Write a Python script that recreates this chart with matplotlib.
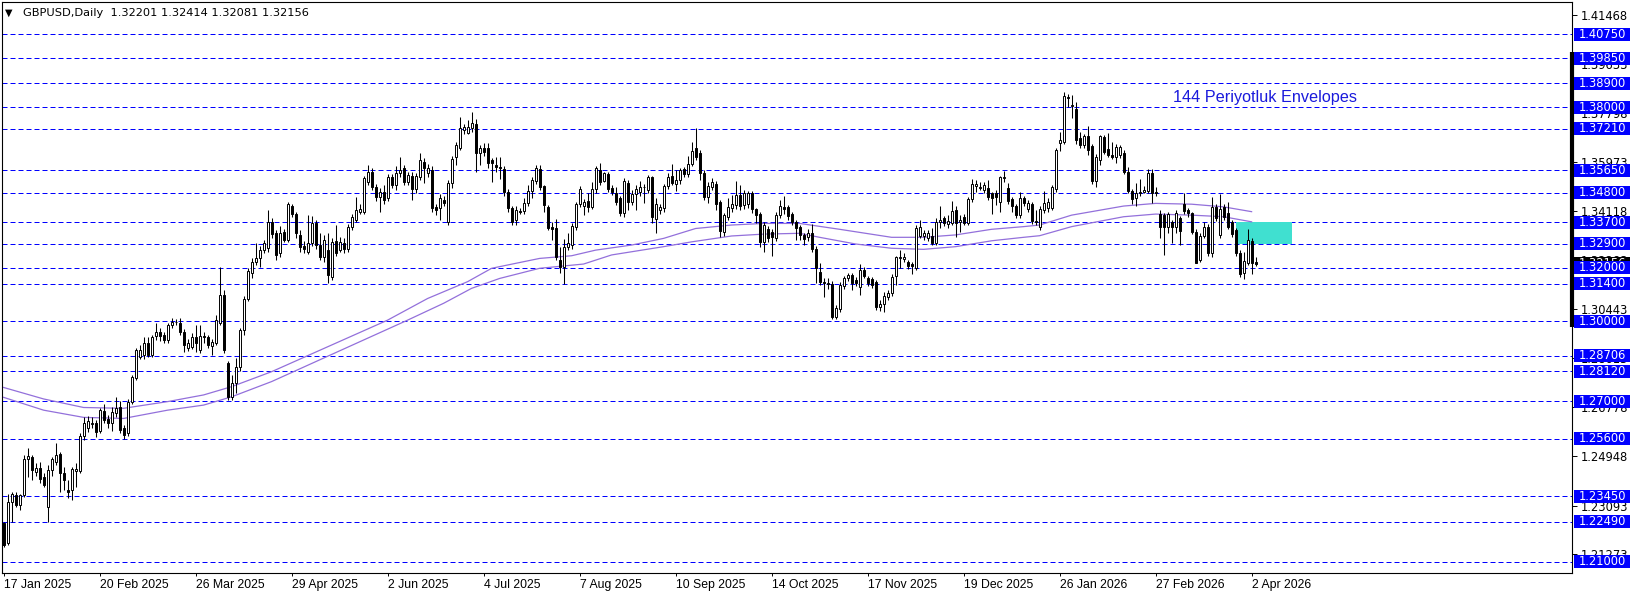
import matplotlib
matplotlib.use("Agg")
from matplotlib import pyplot as plt
from matplotlib.patches import Rectangle
from matplotlib.transforms import blended_transform_factory
import numpy as np

# daily GBPUSD candles, 17 Jan 2025 .. 3 Apr 2026
opens = [
    1.2243, 1.2171, 1.2324, 1.2349, 1.2312, 1.2349, 1.2483, 1.2493, 1.2436, 1.2449,
    1.2418, 1.2305, 1.2443, 1.2474, 1.2503, 1.2433, 1.2370, 1.2368, 1.2440, 1.2440,
    1.2570, 1.2600, 1.2615, 1.2620, 1.2590, 1.2665, 1.2635, 1.2620, 1.2655, 1.2680,
    1.2600, 1.2580, 1.2699, 1.2786, 1.2867, 1.2874, 1.2917, 1.2874, 1.2945, 1.2958,
    1.2948, 1.2930, 1.2986, 1.2998, 1.2995, 1.2961, 1.2898, 1.2905, 1.2942, 1.2893,
    1.2945, 1.2940, 1.2906, 1.2917, 1.2992, 1.3098, 1.2842, 1.2717, 1.2767, 1.2827,
    1.2967, 1.3083, 1.3179, 1.3223, 1.3235, 1.3266, 1.3273, 1.3372, 1.3329, 1.3254,
    1.3335, 1.3304, 1.3431, 1.3401, 1.3323, 1.3281, 1.3260, 1.3291, 1.3368, 1.3285,
    1.3241, 1.3268, 1.3164, 1.3301, 1.3266, 1.3294, 1.3272, 1.3351, 1.3378, 1.3410,
    1.3410, 1.3522, 1.3560, 1.3503, 1.3466, 1.3485, 1.3460, 1.3538, 1.3510, 1.3553,
    1.3572, 1.3522, 1.3543, 1.3493, 1.3538, 1.3597, 1.3556, 1.3566, 1.3428, 1.3422,
    1.3453, 1.3372, 1.3516, 1.3616, 1.3647, 1.3716, 1.3703, 1.3722, 1.3740, 1.3628,
    1.3650, 1.3650, 1.3603, 1.3584, 1.3578, 1.3568, 1.3485, 1.3422, 1.3378, 1.3413,
    1.3412, 1.3443, 1.3488, 1.3526, 1.3568, 1.3506, 1.3426, 1.3354, 1.3347, 1.3229,
    1.3204, 1.3279, 1.3285, 1.3353, 1.3439, 1.3431, 1.3451, 1.3429, 1.3493, 1.3566,
    1.3525, 1.3550, 1.3500, 1.3478, 1.3463, 1.3404, 1.3516, 1.3447, 1.3476, 1.3485,
    1.3501, 1.3491, 1.3538, 1.3381, 1.3416, 1.3422, 1.3506, 1.3543, 1.3513, 1.3528,
    1.3568, 1.3550, 1.3588, 1.3647, 1.3628, 1.3553, 1.3466, 1.3501, 1.3513, 1.3447,
    1.3335, 1.3391, 1.3423, 1.3435, 1.3472, 1.3435, 1.3438, 1.3478, 1.3419, 1.3403,
    1.3297, 1.3344, 1.3335, 1.3313, 1.3397, 1.3429, 1.3426, 1.3403, 1.3372, 1.3351,
    1.3323, 1.3314, 1.3329, 1.3269, 1.3185, 1.3148, 1.3138, 1.3139, 1.3015, 1.3045,
    1.3130, 1.3160, 1.3172, 1.3154, 1.3127, 1.3191, 1.3160, 1.3157, 1.3148, 1.3054,
    1.3066, 1.3089, 1.3104, 1.3169, 1.3236, 1.3232, 1.3223, 1.3214, 1.3198, 1.3319,
    1.3319, 1.3310, 1.3319, 1.3294, 1.3373, 1.3385, 1.3364, 1.3369, 1.3418, 1.3372,
    1.3391, 1.3369, 1.3456, 1.3507, 1.3500, 1.3491, 1.3497, 1.3479, 1.3479, 1.3447,
    1.3535, 1.3497, 1.3456, 1.3431, 1.3397, 1.3460, 1.3419, 1.3438, 1.3376, 1.3354,
    1.3416, 1.3422, 1.3422, 1.3494, 1.3666, 1.3672, 1.3840, 1.3805, 1.3793, 1.3684,
    1.3659, 1.3693, 1.3656, 1.3526, 1.3603, 1.3688, 1.3643, 1.3622, 1.3613, 1.3622,
    1.3628, 1.3559, 1.3488, 1.3460, 1.3478, 1.3485, 1.3488, 1.3553, 1.3485, 1.3403,
    1.3397, 1.3351, 1.3372, 1.3354, 1.3385, 1.3438, 1.3416, 1.3404, 1.3335, 1.3229,
    1.3319, 1.3354, 1.3254, 1.3428, 1.3322, 1.3429, 1.3404, 1.3372, 1.3341, 1.3256,
    1.3179, 1.3219, 1.3301, 1.32201,
]
highs = [
    1.2250, 1.2355, 1.2362, 1.2362, 1.2355, 1.2499, 1.2524, 1.2499, 1.2470, 1.2474,
    1.2430, 1.2460, 1.2490, 1.2543, 1.2510, 1.2455, 1.2405, 1.2455, 1.2470, 1.2580,
    1.2640, 1.2645, 1.2640, 1.2630, 1.2675, 1.2690, 1.2650, 1.2680, 1.2717, 1.2700,
    1.2610, 1.2710, 1.2800, 1.2898, 1.2910, 1.2942, 1.2940, 1.2950, 1.2992, 1.2975,
    1.2960, 1.2995, 1.3011, 1.3010, 1.3011, 1.2970, 1.2935, 1.2955, 1.2985, 1.2986,
    1.2960, 1.2950, 1.2935, 1.3023, 1.3204, 1.3117, 1.2850, 1.2800, 1.2861, 1.2975,
    1.3095, 1.3200, 1.3235, 1.3291, 1.3280, 1.3305, 1.3416, 1.3388, 1.3340, 1.3355,
    1.3345, 1.3445, 1.3440, 1.3410, 1.3340, 1.3300, 1.3397, 1.3395, 1.3378, 1.3330,
    1.3323, 1.3330, 1.3310, 1.3360, 1.3317, 1.3310, 1.3365, 1.3400, 1.3466, 1.3440,
    1.3545, 1.3585, 1.3575, 1.3515, 1.3500, 1.3510, 1.3550, 1.3550, 1.3580, 1.3616,
    1.3585, 1.3560, 1.3560, 1.3555, 1.3628, 1.3610, 1.3590, 1.3580, 1.3440, 1.3475,
    1.3470, 1.3530, 1.3620, 1.3672, 1.3766, 1.3740, 1.3753, 1.3784, 1.3755, 1.3660,
    1.3666, 1.3666, 1.3610, 1.3616, 1.3616, 1.3580, 1.3495, 1.3430, 1.3430, 1.3425,
    1.3460, 1.3510, 1.3540, 1.3585, 1.3585, 1.3510, 1.3435, 1.3370, 1.3381, 1.3279,
    1.3306, 1.3329, 1.3366, 1.3447, 1.3505, 1.3456, 1.3481, 1.3522, 1.3580, 1.3591,
    1.3560, 1.3560, 1.3510, 1.3503, 1.3470, 1.3535, 1.3530, 1.3490, 1.3510, 1.3526,
    1.3515, 1.3547, 1.3545, 1.3463, 1.3440, 1.3515, 1.3556, 1.3588, 1.3566, 1.3575,
    1.3578, 1.3618, 1.3669, 1.3722, 1.3640, 1.3565, 1.3520, 1.3535, 1.3525, 1.3455,
    1.3405, 1.3460, 1.3472, 1.3526, 1.3510, 1.3490, 1.3488, 1.3488, 1.3425, 1.3410,
    1.3370, 1.3355, 1.3345, 1.3410, 1.3453, 1.3468, 1.3435, 1.3410, 1.3380, 1.3359,
    1.3330, 1.3345, 1.3364, 1.3280, 1.3217, 1.3160, 1.3160, 1.3150, 1.3060, 1.3145,
    1.3169, 1.3181, 1.3180, 1.3165, 1.3214, 1.3204, 1.3170, 1.3165, 1.3155, 1.3080,
    1.3110, 1.3115, 1.3175, 1.3245, 1.3266, 1.3255, 1.3230, 1.3220, 1.3360, 1.3379,
    1.3340, 1.3340, 1.3347, 1.3385, 1.3431, 1.3395, 1.3397, 1.3451, 1.3430, 1.3397,
    1.3400, 1.3465, 1.3531, 1.3530, 1.3522, 1.3520, 1.3528, 1.3485, 1.3490, 1.3545,
    1.3563, 1.3516, 1.3465, 1.3440, 1.3485, 1.3470, 1.3455, 1.3445, 1.3416, 1.3430,
    1.3488, 1.3463, 1.3510, 1.3650, 1.3709, 1.3859, 1.3852, 1.3847, 1.3822, 1.3709,
    1.3700, 1.3731, 1.3665, 1.3625, 1.3697, 1.3697, 1.3703, 1.3672, 1.3665, 1.3660,
    1.3640, 1.3578, 1.3495, 1.3516, 1.3531, 1.3505, 1.3568, 1.3568, 1.3503, 1.3415,
    1.3405, 1.3410, 1.3380, 1.3415, 1.3395, 1.3478, 1.3425, 1.3410, 1.3345, 1.3330,
    1.3372, 1.3365, 1.3466, 1.3440, 1.3476, 1.3440, 1.3447, 1.3380, 1.3350, 1.3265,
    1.3260, 1.3344, 1.3310, 1.32414,
]
lows = [
    1.2156, 1.2162, 1.2249, 1.2305, 1.2293, 1.2343, 1.2418, 1.2405, 1.2420, 1.2393,
    1.2380, 1.2249, 1.2420, 1.2460, 1.2362, 1.2368, 1.2340, 1.2330, 1.2380, 1.2430,
    1.2555, 1.2585, 1.2600, 1.2565, 1.2580, 1.2620, 1.2600, 1.2590, 1.2640, 1.2580,
    1.2558, 1.2570, 1.2690, 1.2780, 1.2860, 1.2860, 1.2865, 1.2865, 1.2930, 1.2925,
    1.2917, 1.2920, 1.2975, 1.2985, 1.2950, 1.2886, 1.2890, 1.2895, 1.2886, 1.2880,
    1.2920, 1.2900, 1.2874, 1.2910, 1.2985, 1.2880, 1.2705, 1.2705, 1.2730, 1.2815,
    1.2950, 1.3075, 1.3160, 1.3210, 1.3204, 1.3255, 1.3260, 1.3310, 1.3229, 1.3240,
    1.3295, 1.3295, 1.3390, 1.3310, 1.3260, 1.3256, 1.3250, 1.3280, 1.3270, 1.3230,
    1.3220, 1.3142, 1.3155, 1.3245, 1.3260, 1.3255, 1.3260, 1.3340, 1.3370, 1.3400,
    1.3400, 1.3510, 1.3490, 1.3450, 1.3410, 1.3440, 1.3450, 1.3500, 1.3491, 1.3540,
    1.3510, 1.3510, 1.3454, 1.3480, 1.3530, 1.3516, 1.3540, 1.3410, 1.3397, 1.3379,
    1.3430, 1.3360, 1.3500, 1.3585, 1.3640, 1.3700, 1.3700, 1.3710, 1.3560, 1.3584,
    1.3620, 1.3572, 1.3522, 1.3560, 1.3531, 1.3470, 1.3410, 1.3360, 1.3360, 1.3400,
    1.3400, 1.3430, 1.3460, 1.3515, 1.3490, 1.3410, 1.3340, 1.3304, 1.3229, 1.3181,
    1.3139, 1.3265, 1.3270, 1.3341, 1.3426, 1.3398, 1.3410, 1.3420, 1.3480, 1.3510,
    1.3520, 1.3485, 1.3472, 1.3435, 1.3395, 1.3390, 1.3416, 1.3435, 1.3416, 1.3470,
    1.3441, 1.3480, 1.3366, 1.3329, 1.3400, 1.3410, 1.3495, 1.3510, 1.3488, 1.3515,
    1.3540, 1.3540, 1.3580, 1.3605, 1.3528, 1.3455, 1.3444, 1.3490, 1.3416, 1.3316,
    1.3319, 1.3380, 1.3410, 1.3420, 1.3415, 1.3420, 1.3425, 1.3405, 1.3366, 1.3279,
    1.3260, 1.3295, 1.3245, 1.3300, 1.3385, 1.3400, 1.3380, 1.3360, 1.3304, 1.3304,
    1.3285, 1.3300, 1.3260, 1.3142, 1.3135, 1.3092, 1.3120, 1.3007, 1.3008, 1.3035,
    1.3120, 1.3150, 1.3117, 1.3130, 1.3098, 1.3160, 1.3130, 1.3125, 1.3042, 1.3039,
    1.3035, 1.3080, 1.3095, 1.3135, 1.3198, 1.3220, 1.3195, 1.3177, 1.3190, 1.3310,
    1.3305, 1.3300, 1.3285, 1.3285, 1.3347, 1.3355, 1.3350, 1.3360, 1.3316, 1.3335,
    1.3360, 1.3360, 1.3445, 1.3485, 1.3490, 1.3479, 1.3455, 1.3401, 1.3435, 1.3410,
    1.3520, 1.3440, 1.3410, 1.3385, 1.3385, 1.3430, 1.3410, 1.3365, 1.3360, 1.3341,
    1.3405, 1.3410, 1.3415, 1.3485, 1.3638, 1.3665, 1.3800, 1.3762, 1.3665, 1.3650,
    1.3650, 1.3622, 1.3515, 1.3504, 1.3585, 1.3625, 1.3615, 1.3606, 1.3591, 1.3610,
    1.3550, 1.3480, 1.3440, 1.3431, 1.3470, 1.3480, 1.3480, 1.3441, 1.3470, 1.3310,
    1.3248, 1.3330, 1.3291, 1.3329, 1.3285, 1.3400, 1.3391, 1.3325, 1.3216, 1.3220,
    1.3310, 1.3245, 1.3240, 1.3375, 1.3310, 1.3380, 1.3345, 1.3315, 1.3245, 1.3165,
    1.3157, 1.3210, 1.3176, 1.32081,
]
closes = [
    1.2162, 1.2324, 1.2355, 1.2312, 1.2349, 1.2483, 1.2495, 1.2443, 1.2449, 1.2411,
    1.2387, 1.2443, 1.2483, 1.2499, 1.2430, 1.2405, 1.2362, 1.2445, 1.2446, 1.2570,
    1.2620, 1.2625, 1.2620, 1.2585, 1.2667, 1.2630, 1.2620, 1.2660, 1.2675, 1.2593,
    1.2574, 1.2699, 1.2792, 1.2892, 1.2892, 1.2917, 1.2874, 1.2942, 1.2958, 1.2945,
    1.2930, 1.2986, 1.2998, 1.2996, 1.2961, 1.2911, 1.2920, 1.2942, 1.2920, 1.2945,
    1.2940, 1.2911, 1.2922, 1.3005, 1.3098, 1.2892, 1.2717, 1.2767, 1.2827, 1.2967,
    1.3083, 1.3189, 1.3223, 1.3235, 1.3266, 1.3291, 1.3373, 1.3326, 1.3248, 1.3331,
    1.3304, 1.3439, 1.3401, 1.3329, 1.3279, 1.3269, 1.3291, 1.3366, 1.3285, 1.3241,
    1.3304, 1.3173, 1.3298, 1.3256, 1.3298, 1.3272, 1.3354, 1.3391, 1.3416, 1.3420,
    1.3535, 1.3560, 1.3503, 1.3466, 1.3485, 1.3453, 1.3538, 1.3510, 1.3553, 1.3566,
    1.3522, 1.3547, 1.3493, 1.3543, 1.3603, 1.3572, 1.3572, 1.3422, 1.3416, 1.3463,
    1.3441, 1.3519, 1.3609, 1.3660, 1.3722, 1.3726, 1.3728, 1.3743, 1.3628, 1.3647,
    1.3634, 1.3593, 1.3593, 1.3578, 1.3575, 1.3485, 1.3422, 1.3372, 1.3416, 1.3410,
    1.3443, 1.3488, 1.3528, 1.3572, 1.3501, 1.3435, 1.3347, 1.3344, 1.3241, 1.3204,
    1.3279, 1.3294, 1.3356, 1.3439, 1.3495, 1.3448, 1.3426, 1.3493, 1.3572, 1.3522,
    1.3553, 1.3495, 1.3485, 1.3447, 1.3406, 1.3526, 1.3447, 1.3476, 1.3493, 1.3503,
    1.3503, 1.3538, 1.3391, 1.3438, 1.3428, 1.3506, 1.3541, 1.3518, 1.3528, 1.3566,
    1.3550, 1.3590, 1.3638, 1.3616, 1.3553, 1.3466, 1.3506, 1.3522, 1.3438, 1.3339,
    1.3397, 1.3429, 1.3438, 1.3472, 1.3431, 1.3478, 1.3478, 1.3419, 1.3397, 1.3297,
    1.3360, 1.3310, 1.3316, 1.3397, 1.3431, 1.3419, 1.3394, 1.3372, 1.3348, 1.3323,
    1.3306, 1.3331, 1.3269, 1.3198, 1.3148, 1.3142, 1.3142, 1.3017, 1.3048, 1.3135,
    1.3160, 1.3172, 1.3142, 1.3142, 1.3191, 1.3169, 1.3144, 1.3135, 1.3054, 1.3066,
    1.3094, 1.3104, 1.3164, 1.3239, 1.3240, 1.3242, 1.3206, 1.3207, 1.3347, 1.3351,
    1.3329, 1.3331, 1.3294, 1.3373, 1.3379, 1.3366, 1.3376, 1.3414, 1.3369, 1.3379,
    1.3369, 1.3456, 1.3514, 1.3512, 1.3504, 1.3510, 1.3466, 1.3463, 1.3466, 1.3538,
    1.3541, 1.3451, 1.3431, 1.3397, 1.3460, 1.3441, 1.3444, 1.3376, 1.3373, 1.3419,
    1.3444, 1.3447, 1.3501, 1.3641, 1.3678, 1.3843, 1.3835, 1.3810, 1.3678, 1.3659,
    1.3693, 1.3641, 1.3526, 1.3613, 1.3693, 1.3634, 1.3622, 1.3616, 1.3653, 1.3653,
    1.3559, 1.3488, 1.3456, 1.3478, 1.3485, 1.3491, 1.3553, 1.3478, 1.3478, 1.3354,
    1.3351, 1.3401, 1.3351, 1.3406, 1.3339, 1.3413, 1.3406, 1.3335, 1.3219, 1.3319,
    1.3351, 1.3254, 1.3426, 1.3385, 1.3419, 1.3391, 1.3354, 1.3326, 1.3256, 1.3176,
    1.3226, 1.3304, 1.3219, 1.32156,
]

# 144 period envelopes (upper / lower band), sampled along the bars
env_upper_bars = [0, 10, 20, 30, 41, 50, 57, 67, 96, 106, 116, 122, 134, 142, 148, 157,
                  165, 173, 182, 190, 199, 209, 222, 230, 238, 247, 255, 259, 267, 280,
                  288, 297, 305, 312]
env_upper = [1.2752, 1.2709, 1.2677, 1.2674, 1.2699, 1.2724, 1.2755, 1.2811, 1.3004, 1.3085,
             1.3148, 1.3198, 1.3235, 1.3245, 1.3266, 1.3285, 1.3310, 1.3347, 1.3360, 1.3366,
             1.3366, 1.3344, 1.3314, 1.3314, 1.3323, 1.3344, 1.3354, 1.3360, 1.3397, 1.3431,
             1.3441, 1.3438, 1.3428, 1.3410]
env_lower_bars = [0, 10, 20, 30, 41, 50, 57, 67, 101, 110, 117, 124, 134, 145, 152, 165,
                  172, 182, 190, 199, 204, 213, 222, 230, 238, 247, 255, 259, 267, 280,
                  288, 297, 305, 312]
env_lower = [1.2715, 1.2667, 1.2640, 1.2636, 1.2667, 1.2686, 1.2717, 1.2774, 1.3004, 1.3067,
             1.3123, 1.3160, 1.3198, 1.3214, 1.3248, 1.3279, 1.3297, 1.3319, 1.3326, 1.3329,
             1.3314, 1.3289, 1.3273, 1.3269, 1.3279, 1.3301, 1.3314, 1.3320, 1.3354, 1.3391,
             1.3401, 1.3397, 1.3391, 1.3372]

# horizontal levels (blue dashed lines with price boxes)
levels = [1.40750, 1.39850, 1.38900, 1.38000, 1.37210, 1.35650, 1.34800, 1.33700, 1.32900,
          1.32000, 1.31400, 1.30000, 1.28706, 1.28120, 1.27000, 1.25600, 1.23450, 1.22490,
          1.21000]
axis_prices = [1.41468, 1.39633, 1.37798, 1.35973, 1.34118, 1.32283, 1.30443, 1.28613,
               1.26778, 1.24948, 1.23093, 1.21273]
last_price = 1.32156
date_labels = ["17 Jan 2025", "20 Feb 2025", "26 Mar 2025", "29 Apr 2025", "2 Jun 2025",
               "4 Jul 2025", "7 Aug 2025", "10 Sep 2025", "14 Oct 2025", "17 Nov 2025",
               "19 Dec 2025", "26 Jan 2026", "27 Feb 2026", "2 Apr 2026"]
zone_bars = (308, 322)
zone_prices = (1.3290, 1.3370)
marker_range = (1.2980, 1.4009)

W, H = 1636, 597
fig = plt.figure(figsize=(W / 100, H / 100), dpi=100)
ax = fig.add_axes([2 / W, (H - 573) / H, 1570 / W, 571 / H])
x_lo, x_hi = -0.4, 392.1
y_lo, y_hi = 1.20575, 1.41948
ax.set_xlim(x_lo, x_hi)
ax.set_ylim(y_lo, y_hi)
px = (y_hi - y_lo) / 571  # price per pixel

o = np.array(opens)
h = np.array(highs)
l = np.array(lows)
c = np.array(closes)
xs = np.arange(len(o))

# levels
for lvl in levels:
    ax.axhline(lvl, color="#0000ff", lw=0.72, ls=(0, (5, 3)), zorder=1)

ax.add_patch(Rectangle((zone_bars[0], zone_prices[0]), zone_bars[1] - zone_bars[0],
                       zone_prices[1] - zone_prices[0], facecolor="#40e0d0",
                       edgecolor="none", zorder=1.5))

ax.plot(env_upper_bars, env_upper, color="#9370db", lw=0.9, zorder=2)
ax.plot(env_lower_bars, env_lower, color="#9370db", lw=0.9, zorder=2)

# candles
ax.vlines(xs, l, h, color="black", lw=0.75, zorder=3)
body_lo = np.minimum(o, c)
body_h = np.maximum(np.abs(c - o), px * 0.6)
body_col = np.where(c >= o, "white", "black")
ax.bar(xs, body_h, bottom=body_lo, width=0.55, color=body_col, edgecolor="black",
       linewidth=0.7, zorder=4)

ax.text(292.3, 1.3838, "144 Periyotluk Envelopes", color="#1a1adc", fontsize=11.7,
        family=["Liberation Sans", "DejaVu Sans"], va="center", ha="left", zorder=5)

# axes styling
for sp in ax.spines.values():
    sp.set_linewidth(0.8)
    sp.set_color("black")
ax.yaxis.tick_right()
ax.set_yticks(axis_prices)
ax.set_yticklabels([f"{p:.5f}" for p in axis_prices])
ax.tick_params(axis="y", length=3.5, width=0.7, pad=2.5, labelsize=8.3, colors="black")
ax.set_xticks(range(0, 24 * len(date_labels), 24))
ax.set_xticklabels(date_labels, family=["Liberation Sans", "DejaVu Sans"])
ax.tick_params(axis="x", length=2.5, width=0.7, pad=1.5, labelsize=8.8)
for lbl in ax.get_xticklabels():
    lbl.set_horizontalalignment("left")

# price boxes on the right
tr = blended_transform_factory(ax.transAxes, ax.transData)
bx0 = 1 + 2 / 1570
bw = 56 / 1570
bh = 13 * px

ax.plot([x_hi, x_hi], marker_range, color="black", lw=3, clip_on=False,
        solid_capstyle="butt", zorder=5)

ax.add_patch(Rectangle((bx0, last_price - bh / 2), bw, bh, transform=tr, facecolor="black",
                       edgecolor="none", clip_on=False, zorder=5.5))
ax.text(bx0 + 5 / 1570, last_price, f"{last_price:.5f}", transform=tr, color="white",
        fontsize=8.3, va="center", ha="left", clip_on=False, zorder=5.6)
for lvl in levels:
    ax.add_patch(Rectangle((bx0, lvl - bh / 2), bw, bh, transform=tr, facecolor="#0000ff",
                           edgecolor="none", clip_on=False, zorder=6))
    ax.text(bx0 + 5 / 1570, lvl, f"{lvl:.5f}", transform=tr, color="white", fontsize=8.3,
            va="center", ha="left", clip_on=False, zorder=7)

# header
fig.text(5 / W, 1 - 13 / H, "\u25bc", fontsize=7, va="center", ha="left")
fig.text(23 / W, 1 - 13 / H, "GBPUSD,Daily  1.32201 1.32414 1.32081 1.32156",
         fontsize=8.2, va="center", ha="left")

fig.savefig("out.png", dpi=100, facecolor="white")
